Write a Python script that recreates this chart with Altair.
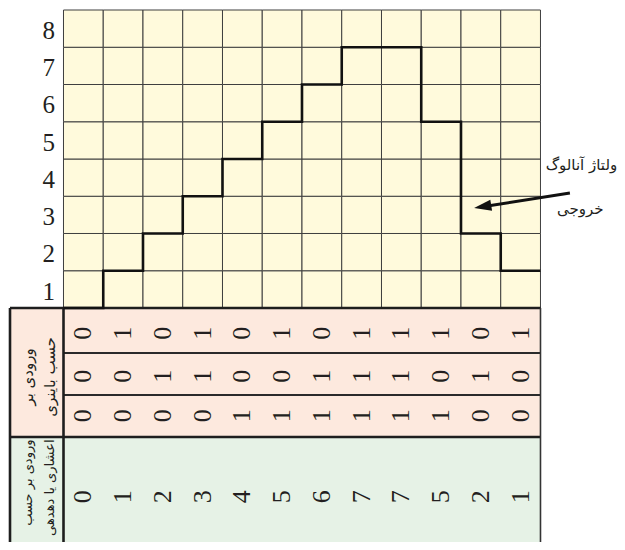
import altair as alt
import pandas as pd

# ---- data ----
columns = list(range(12))
levels = [0, 1, 2, 3, 4, 5, 6, 7, 7, 5, 2, 1]          # analog output level per input step
bit0 = [0, 1, 0, 1, 0, 1, 0, 1, 1, 1, 0, 1]            # top binary row
bit1 = [0, 0, 1, 1, 0, 0, 1, 1, 1, 0, 1, 0]            # middle binary row
bit2 = [0, 0, 0, 0, 1, 1, 1, 1, 1, 1, 0, 0]            # bottom binary row
decimal = [0, 1, 2, 3, 4, 5, 6, 7, 7, 5, 2, 1]
y_labels = ["1", "2", "3", "4", "5", "6", "7", "8"]
header_binary = ["ورودی بر", "حسب باینری"]
header_decimal = ["ورودی بر حسب", "اعشاری یا دهدهی"]
annotation = ["ولتاژ آنالوگ", "خروجی"]

# ---- layout helpers (units: columns on x, levels on y) ----
XS = alt.Scale(domain=[-1.3962, 13.925], nice=False, zero=False)
YS = alt.Scale(domain=[-6.2819, 8.0537], nice=False, zero=False)
TABLE_LEFT = -1.346
ROW_EDGES = [0, -1.208, -2.336, -3.463]
BOTTOM = -6.2819
SERIF = "Liberation Serif"
ARABIC = "DejaVu Sans"
INK = "#231f20"


def X(f="x"):
    return alt.X(f"{f}:Q", scale=XS, axis=None)


def Y(f="y"):
    return alt.Y(f"{f}:Q", scale=YS, axis=None)


# grid cells
cells = pd.DataFrame([(c, r) for c in columns for r in range(8)], columns=["x", "y"])
cells["x2"] = cells["x"] + 1
cells["y2"] = cells["y"] + 1
grid = alt.Chart(cells).mark_rect(fill="#fffadc", stroke="#3f3f3f", strokeWidth=1).encode(
    x=X(), x2="x2:Q", y=Y(), y2="y2:Q"
)

# table backgrounds
bg = pd.DataFrame({
    "x": [TABLE_LEFT, TABLE_LEFT], "x2": [12, 12],
    "y": [ROW_EDGES[0], ROW_EDGES[3]], "y2": [ROW_EDGES[3], BOTTOM],
    "fill": ["#fde9de", "#e6f2e6"],
})
table_bg = alt.Chart(bg).mark_rect().encode(
    x=X(), x2="x2:Q", y=Y(), y2="y2:Q", fill=alt.Fill("fill:N", scale=None, legend=None)
)

# table borders
borders = pd.DataFrame([
    (TABLE_LEFT, 12, ROW_EDGES[0], ROW_EDGES[0], 2.6, "#1e1e1e"),
    (0, 12, ROW_EDGES[1], ROW_EDGES[1], 2.2, "#2a2a2a"),
    (0, 12, ROW_EDGES[2], ROW_EDGES[2], 2.2, "#2a2a2a"),
    (TABLE_LEFT, 12, ROW_EDGES[3], ROW_EDGES[3], 2.6, "#1e1e1e"),
    (TABLE_LEFT, TABLE_LEFT, ROW_EDGES[0], BOTTOM, 2.6, "#1e1e1e"),
    (0, 0, ROW_EDGES[0], BOTTOM, 2.6, "#1e1e1e"),
    (12, 12, ROW_EDGES[0], BOTTOM, 1.6, "#333333"),
], columns=["x", "x2", "y", "y2", "w", "c"])
border_rules = alt.Chart(borders).mark_rule().encode(
    x=X(), x2="x2:Q", y=Y(), y2="y2:Q",
    strokeWidth=alt.StrokeWidth("w:Q", scale=None, legend=None),
    color=alt.Color("c:N", scale=None, legend=None),
)

# staircase output
steps = pd.DataFrame({"x": columns + [12], "y": levels + [levels[-1]]})
stair = alt.Chart(steps).mark_line(interpolate="step-after", color="#111111", strokeWidth=2.6).encode(
    x=X(), y=Y(), order="x:Q"
)

# y labels 1..8
ylab = pd.DataFrame({"text": y_labels, "lvl": [int(t) for t in y_labels]})
ylab["y"] = ylab["lvl"] - 0.56
ylab["x"] = -0.37
ylabels = alt.Chart(ylab).mark_text(font=SERIF, fontSize=25, color=INK, align="center", baseline="middle").encode(
    x=X(), y=Y(), text="text:N"
)

# binary + decimal digits (rotated)
rows = []
for bits, yy in [(bit0, -0.68), (bit1, -1.83), (bit2, -2.89)]:
    for c, b in zip(columns, bits):
        rows.append((c + 0.5, yy, str(b)))
for c, d in zip(columns, decimal):
    rows.append((c + 0.5, -5.07, str(d)))
dig = pd.DataFrame(rows, columns=["x", "y", "text"])
digits = alt.Chart(dig).mark_text(font=SERIF, fontSize=26, color=INK, angle=270, align="center", baseline="middle").encode(
    x=X(), y=Y(), text="text:N"
)

# row headers (rotated Persian text)
hb = pd.DataFrame({"x": [-0.9, -0.34], "y": [-1.85, -1.85], "text": header_binary})
head_bin = alt.Chart(hb).mark_text(font=ARABIC, fontSize=15, color=INK, angle=270, align="center", baseline="middle").encode(
    x=X(), y=Y(), text="text:N"
)
hd = pd.DataFrame({"x": [-0.9, -0.34], "y": [-3.53, -3.53], "text": header_decimal})
head_dec = alt.Chart(hd).mark_text(font=ARABIC, fontSize=13, color=INK, angle=270, align="right", baseline="middle").encode(
    x=X(), y=Y(), text="text:N"
)

# annotation arrow + text
arrow_df = pd.DataFrame({"x": [12.74, 10.5], "y": [3.087, 2.71], "o": [0, 1]})
arrow_line = alt.Chart(arrow_df).mark_line(color="#111111", strokeWidth=3).encode(
    x=X(), y=Y(), order="o:Q"
)
tip = pd.DataFrame({"x": [10.33], "y": [2.685]})
arrow_head = alt.Chart(tip).mark_point(
    shape="M0,0L0.65,2L-0.65,2Z", filled=True, opacity=1, color="#111111", size=300, angle=261
).encode(x=X(), y=Y())
ann = pd.DataFrame({"x": [13.03, 13.0], "y": [3.84, 2.66], "text": annotation})
ann_text = alt.Chart(ann).mark_text(font=ARABIC, fontSize=15, color=INK, align="center", baseline="middle").encode(
    x=X(), y=Y(), text="text:N"
)

chart = alt.layer(
    table_bg, grid, border_rules, stair, ylabels, digits, head_bin, head_dec,
    arrow_line, arrow_head, ann_text
).properties(
    width=609, height=534, padding=0, autosize=alt.AutoSizeParams(type="none")
).configure_view(stroke=None)

chart.save("out.html", embed_options={"renderer": "svg", "actions": False})
